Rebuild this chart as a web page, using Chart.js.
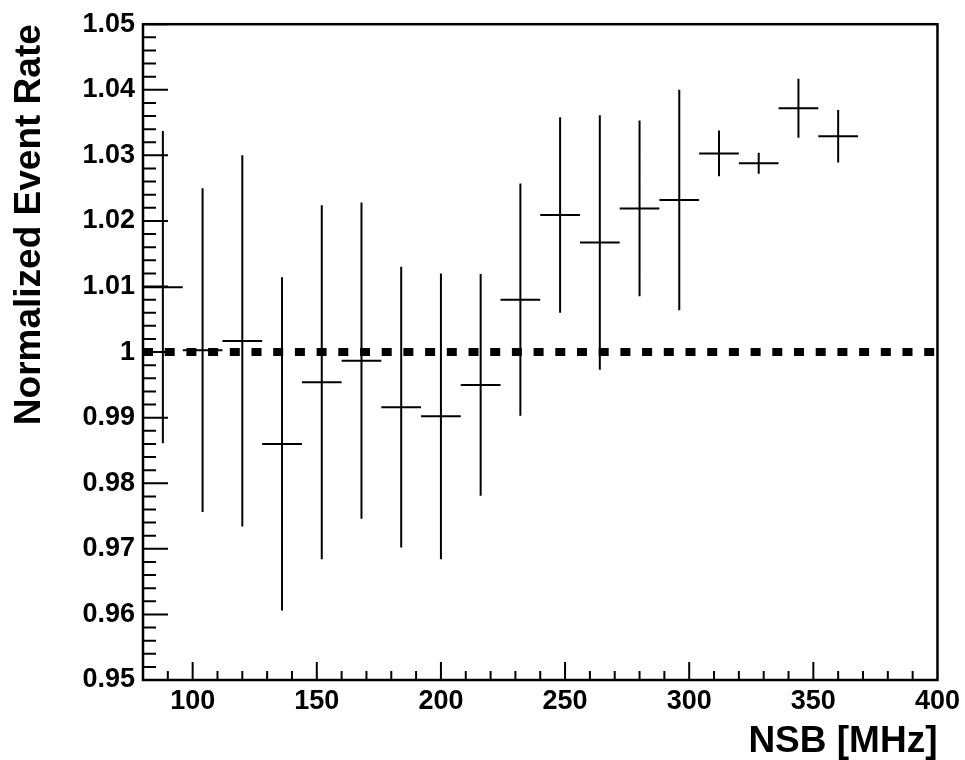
<!DOCTYPE html>
<html>
<head>
<meta charset="utf-8">
<script src="https://cdn.jsdelivr.net/npm/chart.js@4"></script>
<style>
  body { margin: 0; background: #fff; }
  #wrap { width: 965px; height: 760px; }
</style>
</head>
<body>
<div id="wrap"><canvas id="rateChart"></canvas></div>
<script>
// --- data
const nsb = [88, 104, 120, 136, 152, 168, 184, 200, 216, 232, 248, 264, 280, 296, 312, 328, 344, 360];
const rate = [1.0099, 1.0003, 1.0017, 0.9860, 0.9954, 0.9987, 0.9916, 0.9902, 0.9950, 1.0080,
              1.0209, 1.0167, 1.0219, 1.0232, 1.0303, 1.0288, 1.0372, 1.0329];
const rateErr = [0.0238, 0.0247, 0.0283, 0.0254, 0.0270, 0.0241, 0.0214, 0.0218, 0.0169, 0.0177,
                 0.0149, 0.0194, 0.0134, 0.0168, 0.0035, 0.0016, 0.0045, 0.0040];
const nsbHalfBin = 8;        // horizontal bar = bin width
const refLevel = 1;          // dashed reference line
const xRange = [80, 400];
const yRange = [0.95, 1.05];

const fontFamily = "'Liberation Sans', Arial, Helvetica, sans-serif";

// --- segments, broken up with null points
const hSegs = [];
const vSegs = [];
nsb.forEach((x, i) => {
  hSegs.push({ x: x - nsbHalfBin, y: rate[i] }, { x: x + nsbHalfBin, y: rate[i] }, { x: x, y: null });
  vSegs.push({ x: x, y: rate[i] - rateErr[i] }, { x: x, y: rate[i] + rateErr[i] }, { x: x, y: null });
});

// --- ROOT style frame + inward ticks
const rootFrame = {
  id: 'rootFrame',
  afterDraw(chart) {
    const { ctx, chartArea: { left, right, top, bottom } } = chart;
    const xs = chart.scales.x, ys = chart.scales.y;
    ctx.save();
    ctx.strokeStyle = '#000';
    ctx.lineWidth = 2;
    ctx.beginPath();
    // y ticks, minor every 0.002
    for (let i = 0; i <= 50; i++) {
      const py = ys.getPixelForValue(yRange[0] + i * 0.002);
      const len = i % 5 === 0 ? 25 : 13;
      ctx.moveTo(left, py);
      ctx.lineTo(left + len, py);
    }
    // x ticks, minor every 10
    for (let v = 90; v < xRange[1]; v += 10) {
      const px = xs.getPixelForValue(v);
      const len = v % 50 === 0 ? 18 : 9;
      ctx.moveTo(px, bottom);
      ctx.lineTo(px, bottom - len);
    }
    ctx.stroke();
    ctx.lineWidth = 2.5;
    ctx.strokeRect(left, top, right - left, bottom - top);
    ctx.restore();
  }
};

const tickFont = { family: fontFamily, size: 27, weight: 'bold' };

new Chart(document.getElementById('rateChart'), {
  type: 'line',
  data: {
    datasets: [
      {
        label: 'ref',
        data: [{ x: xRange[0], y: refLevel }, { x: xRange[1], y: refLevel }],
        borderColor: '#000', borderWidth: 8, borderDash: [10, 11.7],
        borderCapStyle: 'butt', pointRadius: 0
      },
      {
        label: 'xerr',
        data: hSegs,
        borderColor: '#000', borderWidth: 2, borderCapStyle: 'butt',
        pointRadius: 0, spanGaps: false
      },
      {
        label: 'yerr',
        data: vSegs,
        borderColor: '#000', borderWidth: 2, borderCapStyle: 'butt',
        pointRadius: 0, spanGaps: false
      }
    ]
  },
  options: {
    responsive: true,
    maintainAspectRatio: false,
    animation: false,
    layout: { padding: { top: 23, right: 23, left: 0, bottom: 0 } },
    plugins: { legend: { display: false }, tooltip: { enabled: false } },
    scales: {
      x: {
        type: 'linear', min: xRange[0], max: xRange[1],
        grid: { display: false, drawTicks: false },
        border: { display: false },
        ticks: {
          stepSize: 50, padding: 5, maxRotation: 0, autoSkip: false,
          color: '#000', font: tickFont,
          callback: v => (v % 50 === 0 ? String(v) : '')
        },
        title: {
          display: true, text: 'NSB [MHz]', align: 'end', color: '#000',
          font: { family: fontFamily, size: 37, weight: 'bold', lineHeight: 1 },
          padding: { top: 0, bottom: 0 }
        },
        afterFit: s => { s.height = 80; }
      },
      y: {
        type: 'linear', min: yRange[0], max: yRange[1],
        grid: { display: false, drawTicks: false },
        border: { display: false },
        ticks: {
          stepSize: 0.01, padding: 8, autoSkip: false,
          color: '#000', font: tickFont,
          callback: v => String(+v.toFixed(2))
        },
        title: {
          display: true, text: 'Normalized Event Rate', align: 'end', color: '#000',
          font: { family: fontFamily, size: 37, weight: 'bold', lineHeight: 1 },
          padding: { top: 11, bottom: 0 }
        },
        afterFit: s => { s.width = 143; }
      }
    }
  },
  plugins: [rootFrame]
});
</script>
</body>
</html>
